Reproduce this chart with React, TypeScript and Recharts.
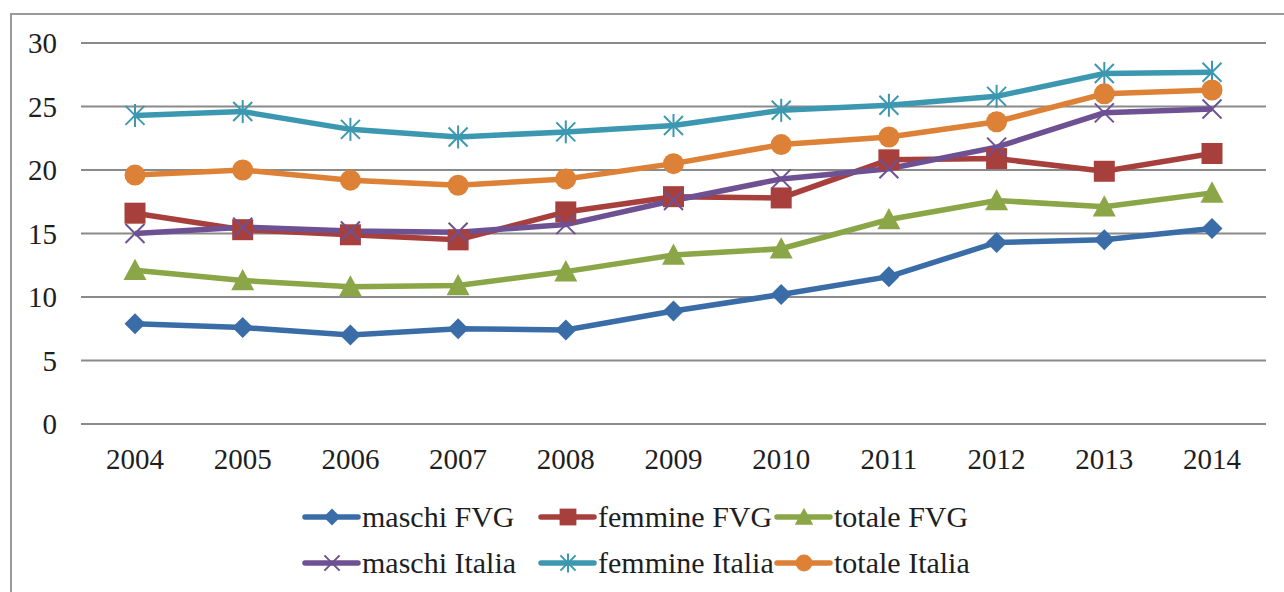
import React from 'react'
import { LineChart, Line, XAxis, YAxis, CartesianGrid } from 'recharts'

// ─── Data ─────────────────────────────────────────────────────────────────────

const years = ['2004', '2005', '2006', '2007', '2008', '2009', '2010', '2011', '2012', '2013', '2014']

const maschiFVG    = [7.9, 7.6, 7.0, 7.5, 7.4, 8.9, 10.2, 11.6, 14.3, 14.5, 15.4]
const femmineFVG   = [16.6, 15.3, 14.9, 14.5, 16.7, 17.9, 17.8, 20.8, 20.9, 19.9, 21.3]
const totaleFVG    = [12.1, 11.3, 10.8, 10.9, 12.0, 13.3, 13.8, 16.1, 17.6, 17.1, 18.2]
const maschiItalia = [15.0, 15.5, 15.2, 15.1, 15.7, 17.6, 19.3, 20.1, 21.8, 24.5, 24.8]
const femmineItalia = [24.3, 24.6, 23.2, 22.6, 23.0, 23.5, 24.7, 25.1, 25.8, 27.6, 27.7]
const totaleItalia = [19.6, 20.0, 19.2, 18.8, 19.3, 20.5, 22.0, 22.6, 23.8, 26.0, 26.3]

const yTicks = [0, 5, 10, 15, 20, 25, 30]

// ─── Style tokens ─────────────────────────────────────────────────────────────

const FONT = '"Liberation Serif", "Times New Roman", serif'
const TEXT = '#1e1e1e'
const GRID = '#8a8a8a'

type Shape = 'diamond' | 'square' | 'triangle' | 'x' | 'asterisk' | 'circle'

const series: { key: string; name: string; color: string; shape: Shape; values: number[] }[] = [
  { key: 'mf', name: 'maschi FVG', color: '#3A6DA8', shape: 'diamond', values: maschiFVG },
  { key: 'ff', name: 'femmine FVG', color: '#A7403D', shape: 'square', values: femmineFVG },
  { key: 'tf', name: 'totale FVG', color: '#8BA647', shape: 'triangle', values: totaleFVG },
  { key: 'mi', name: 'maschi Italia', color: '#6E5193', shape: 'x', values: maschiItalia },
  { key: 'fi', name: 'femmine Italia', color: '#3C98B1', shape: 'asterisk', values: femmineItalia },
  { key: 'ti', name: 'totale Italia', color: '#DD8136', shape: 'circle', values: totaleItalia },
]

const chartData = years.map((y, i) => {
  const row: Record<string, string | number> = { year: y }
  series.forEach(s => { row[s.key] = s.values[i] })
  return row
})

// ─── Markers ──────────────────────────────────────────────────────────────────

function markerShape(shape: Shape, cx: number, cy: number, color: string, s = 1) {
  switch (shape) {
    case 'diamond': {
      const r = 10.5 * s
      return <polygon points={`${cx},${cy - r} ${cx + r},${cy} ${cx},${cy + r} ${cx - r},${cy}`} fill={color} />
    }
    case 'square': {
      const r = 10.5 * s
      return <rect x={cx - r} y={cy - r} width={2 * r} height={2 * r} fill={color} />
    }
    case 'triangle': {
      const r = 11.5 * s
      return <polygon points={`${cx},${cy - r} ${cx + r},${cy + r * 0.85} ${cx - r},${cy + r * 0.85}`} fill={color} />
    }
    case 'circle':
      return <circle cx={cx} cy={cy} r={10.5 * s} fill={color} />
    case 'x': {
      const r = 9.5 * s
      return (
        <g stroke={color} strokeWidth={2}>
          <line x1={cx - r} y1={cy - r} x2={cx + r} y2={cy + r} />
          <line x1={cx - r} y1={cy + r} x2={cx + r} y2={cy - r} />
        </g>
      )
    }
    case 'asterisk': {
      const r = 9.5 * s
      return (
        <g stroke={color} strokeWidth={2}>
          <line x1={cx - r} y1={cy - r} x2={cx + r} y2={cy + r} />
          <line x1={cx - r} y1={cy + r} x2={cx + r} y2={cy - r} />
          <line x1={cx} y1={cy - r - 2} x2={cx} y2={cy + r + 2} />
        </g>
      )
    }
  }
}

function makeDot(shape: Shape, color: string) {
  return (props: any) => {
    const { cx, cy, index } = props
    if (cx == null || cy == null) return <g key={`d-${index}`} />
    return <g key={`d-${index}`}>{markerShape(shape, cx, cy, color)}</g>
  }
}

// ─── Legend ───────────────────────────────────────────────────────────────────

function LegendItem({ name, color, shape }: { name: string; color: string; shape: Shape }) {
  return (
    <div style={{ display: 'flex', alignItems: 'center', width: 236, height: 40 }}>
      <svg width={60} height={40} style={{ flex: 'none' }}>
        <line x1={3} y1={20} x2={56} y2={20} stroke={color} strokeWidth={5.5} strokeLinecap="round" />
        {markerShape(shape, 30, 20, color, 0.8)}
      </svg>
      <span style={{ fontFamily: FONT, fontSize: 30, color: TEXT, whiteSpace: 'nowrap' }}>{name}</span>
    </div>
  )
}

// ─── Main export ──────────────────────────────────────────────────────────────

export default function App() {
  const rows = [series.slice(0, 3), series.slice(3, 6)]
  return (
    <div style={{
      position: 'fixed', left: 0, top: 0, width: 1284, height: 592,
      overflow: 'hidden', background: '#fff',
    }}>
      <div style={{
        position: 'absolute', left: 10, top: 13, width: 1400, height: 700,
        border: '2px solid #9a9a9a',
      }} />
      <div style={{ position: 'absolute', left: 0, top: 0 }}>
        <LineChart width={1284} height={592} data={chartData} margin={{ top: 43, right: 18, left: 0, bottom: 128 }}>
          <CartesianGrid vertical={false} stroke={GRID} strokeWidth={1.8} />
          <XAxis
            dataKey="year"
            height={40}
            padding={{ left: 54, right: 54 }}
            tickLine={false}
            tickSize={0}
            tickMargin={24}
            axisLine={{ stroke: GRID, strokeWidth: 1.8 }}
            tick={{ fontFamily: FONT, fontSize: 29, fill: TEXT }}
            interval={0}
          />
          <YAxis
            width={81}
            domain={[0, 30]}
            ticks={yTicks}
            tickLine={false}
            tickSize={0}
            tickMargin={24}
            axisLine={false}
            tick={{ fontFamily: FONT, fontSize: 29, fill: TEXT }}
          />
          {series.map(s => (
            <Line
              key={s.key}
              dataKey={s.key}
              name={s.name}
              stroke={s.color}
              strokeWidth={5.5}
              dot={makeDot(s.shape, s.color)}
              activeDot={false}
              isAnimationActive={false}
            />
          ))}
        </LineChart>
      </div>
      <div style={{ position: 'absolute', left: 302, top: 497 }}>
        {rows.map((row, ri) => (
          <div key={ri} style={{ display: 'flex', marginBottom: ri === 0 ? 6 : 0 }}>
            {row.map(s => <LegendItem key={s.key} name={s.name} color={s.color} shape={s.shape} />)}
          </div>
        ))}
      </div>
    </div>
  )
}
